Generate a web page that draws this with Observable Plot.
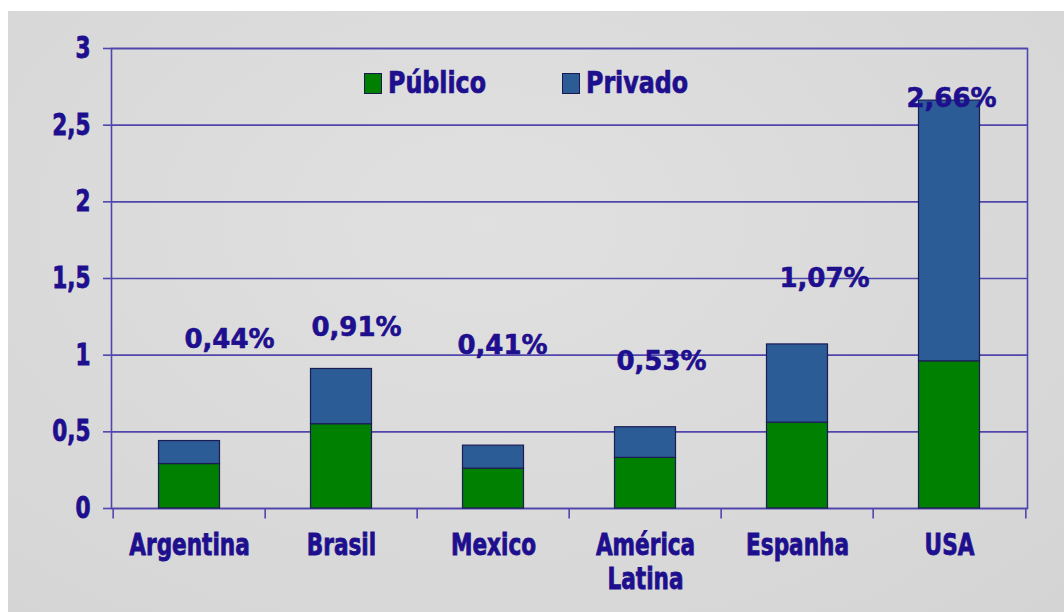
<!DOCTYPE html>
<html>
<head>
<meta charset="utf-8">
<script src="https://cdn.jsdelivr.net/npm/d3@7"></script>
<script src="https://cdn.jsdelivr.net/npm/@observablehq/plot@0.6"></script>
<style>
  html, body { margin: 0; padding: 0; background: #ffffff; }
  #wrap { position: relative; width: 1064px; height: 612px; overflow: hidden; }
  #bg { position: absolute; left: 8px; top: 11px; right: 0; bottom: 0;
        background: radial-gradient(ellipse at 45% 35%, #e0e0e0 0%, #d9d9d9 60%, #d4d4d4 100%); }
  #chart { position: absolute; left: 0; top: 0; }
  .legend { position: absolute; top: 66px; font-family: "DejaVu Sans Condensed", "DejaVu Sans", sans-serif;
            font-weight: bold; font-size: 30px; color: #1e0f8e; display: flex; align-items: center; line-height: 34px;
            -webkit-text-stroke: 0.7px #1e0f8e; }
  .legend .t { display: inline-block; transform: scaleX(0.88); transform-origin: left center; }
  .sw { width: 16px; height: 19px; border: 1px solid #1a1a50; margin-right: 6px; display: inline-block; -webkit-text-stroke: 0; }
</style>
</head>
<body>
<div id="wrap">
  <div id="bg"></div>
  <div id="chart"></div>
  <div class="legend" style="left:364px"><span class="sw" style="background:#008000"></span><span class="t">Público</span></div>
  <div class="legend" style="left:562px"><span class="sw" style="background:#2b5c96"></span><span class="t">Privado</span></div>
</div>
<script>
// ---- data ----
const categories = ["Argentina", "Brasil", "Mexico", "América\nLatina", "Espanha", "USA"];
const series = ["Público", "Privado"];
const publico = [0.29, 0.55, 0.26, 0.33, 0.56, 0.96];
const total   = [0.44, 0.91, 0.41, 0.53, 1.07, 2.66];
const totalLabels = ["0,44%", "0,91%", "0,41%", "0,53%", "1,07%", "2,66%"];
const yTicks = [0, 0.5, 1, 1.5, 2, 2.5, 3];
// label anchor (value units) and horizontal shift as placed in the original slide
const labelY  = [1.10, 1.18, 1.06, 0.96, 1.50, 2.67];
const labelDx = [40, 15, 9, 16, 27, 2];

// ---- derived tables ----
const privado = total.map((t, i) => +(t - publico[i]).toFixed(2));
const rows = [];
categories.forEach((c, i) => {
  rows.push({country: c, type: series[0], value: publico[i]});
  rows.push({country: c, type: series[1], value: privado[i]});
});
const labels = categories.map((c, i) => ({country: c, y: labelY[i], text: totalLabels[i]}));

const ink = "#1e0f8e";
const grid = "#5045ad";
const W = 1064, H = 612, mL = 111, mR = 37, mT = 48, mB = 104;
const step = (W - mL - mR) / categories.length;
const condensed = "'DejaVu Sans Condensed', 'DejaVu Sans', sans-serif";

const chart = Plot.plot({
  width: W, height: H,
  marginLeft: mL, marginRight: mR, marginTop: mT, marginBottom: mB,
  style: {background: "transparent", overflow: "visible"},
  x: {domain: categories, padding: 0},
  y: {domain: [0, 3]},
  color: {domain: series, range: ["#008000", "#2b5c96"]},
  marks: [
    Plot.ruleY(yTicks, {y: d => d, stroke: grid, strokeWidth: 1.6}),
    Plot.frame({stroke: grid, strokeWidth: 1.6}),
    // category separator ticks below the baseline
    Plot.ruleX(categories, {x: d => d, dx: -step / 2, y1: 0, y2: -0.068, stroke: grid, strokeWidth: 1.6}),
    Plot.ruleX([categories[categories.length - 1]], {x: d => d, dx: step / 2, y1: 0, y2: -0.068, stroke: grid, strokeWidth: 1.6}),
    Plot.axisY({
      ticks: yTicks, tickSize: 8, tickPadding: 13, stroke: grid, strokeWidth: 1.6,
      tickFormat: d => String(d).replace(".", ","),
      fill: ink, fontSize: 30, fontWeight: "bold", fontFamily: condensed, label: null
    }),
    Plot.barY(rows, {
      x: "country", y: "value", fill: "type",
      insetLeft: 45.5, insetRight: 45.5, stroke: "#1c1c55", strokeWidth: 1.2
    }),
    ...labels.map((d, i) => Plot.text([d], {
      x: "country", y: "y", dx: labelDx[i], text: "text",
      fill: ink, stroke: ink, strokeWidth: 0.6, fontSize: 26, fontWeight: "bold",
      fontFamily: "'DejaVu Sans', sans-serif"
    })),
    Plot.axisX({
      tickSize: 0, tickPadding: 22, fill: ink, fontSize: 30, fontWeight: "bold",
      fontFamily: condensed, lineHeight: 1.15, label: null
    })
  ]
});
// narrow and thicken the axis lettering, like the heavy condensed slide font
d3.select(chart).selectAll("g[aria-label='x-axis tick label'] text, g[aria-label='y-axis tick label'] text").each(function() {
  const el = d3.select(this);
  const t = el.attr("transform") || "";
  el.attr("transform", t + " scale(0.8,1)")
    .attr("stroke", ink).attr("stroke-width", 0.8);
});
document.getElementById("chart").appendChild(chart);
</script>
</body>
</html>
